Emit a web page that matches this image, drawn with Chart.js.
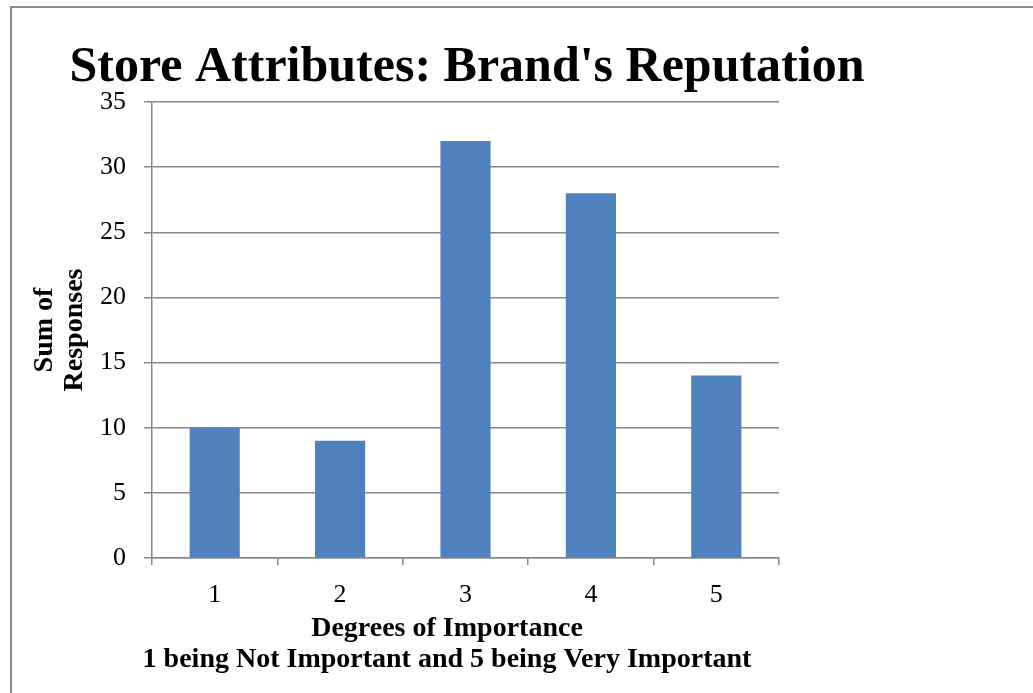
<!DOCTYPE html>
<html>
<head>
<meta charset="utf-8">
<script src="https://cdn.jsdelivr.net/npm/chart.js"></script>
<style>
    html, body { margin: 0; padding: 0; background: #fff; overflow: hidden; }
    #wrap { position: relative; width: 1033px; height: 693px; }
    #frame {
        position: absolute; left: 10px; top: 6px; width: 1100px; height: 800px;
        border: 2px solid #8a8a8a; box-sizing: border-box;
    }
    canvas { position: absolute; left: 0; top: 0; }
</style>
</head>
<body>
<div id="wrap">
    <div id="frame"></div>
    <canvas id="chart" width="1033" height="693"></canvas>
</div>
<script>
// Veriler
const chartTitle = "Store Attributes: Brand's Reputation";
const categories = ['1', '2', '3', '4', '5'];
const responses = [10, 9, 32, 28, 14];
const yTitle = ['Sum of', 'Responses'];
const xTitle = ['Degrees of Importance', '1 being Not Important and 5 being Very Important'];

const serif = '"Liberation Serif", "Times New Roman", serif';
const gridGray = '#888888';

// Başlık ve x ekseni başlığını çizen küçük eklenti
const textLayer = {
    id: 'textLayer',
    afterDraw(chart) {
        const ctx = chart.ctx;
        ctx.save();
        ctx.fillStyle = '#000';
        ctx.textAlign = 'center';
        ctx.textBaseline = 'alphabetic';

        ctx.font = 'bold 50px ' + serif;
        ctx.fillText(chartTitle, 467, 81);

        ctx.font = 'bold 28px ' + serif;
        ctx.fillText(xTitle[0], 447, 636);
        ctx.fillText(xTitle[1], 447, 667);
        ctx.restore();
    }
};

const ctx = document.getElementById('chart').getContext('2d');

new Chart(ctx, {
    type: 'bar',
    data: {
        labels: categories,
        datasets: [
            {
                label: 'Sum of Responses',
                data: responses,
                backgroundColor: '#4F81BD',
                borderWidth: 0,
                barPercentage: 0.4,
                categoryPercentage: 1.0,
            },
        ],
    },
    options: {
        responsive: false,
        animation: false,
        devicePixelRatio: 1,
        layout: {
            padding: { top: 102, right: 254, bottom: 0, left: 0 },
        },
        plugins: {
            legend: { display: false },
            title: { display: false },
            tooltip: { enabled: false },
        },
        scales: {
            x: {
                grid: {
                    offset: true,
                    drawOnChartArea: false,
                    drawTicks: true,
                    tickLength: 7,
                    color: gridGray,
                    lineWidth: 1.5,
                },
                border: { display: true, color: gridGray, width: 1.5 },
                ticks: {
                    color: '#000',
                    font: { family: serif, size: 26 },
                    padding: 15,
                },
                afterFit(scale) {
                    scale.height = 135;
                },
            },
            y: {
                min: 0,
                max: 35,
                ticks: {
                    stepSize: 5,
                    color: '#000',
                    font: { family: serif, size: 26 },
                    padding: 18,
                },
                grid: {
                    color: gridGray,
                    lineWidth: 1.5,
                    tickLength: 8,
                },
                border: { display: true, color: gridGray, width: 1.5 },
                title: {
                    display: true,
                    text: yTitle,
                    color: '#000',
                    font: { family: serif, size: 28, weight: 'bold', lineHeight: 1.07 },
                    padding: { top: 30, bottom: 0 },
                },
                afterFit(scale) {
                    scale.width = 152;
                },
            },
        },
    },
    plugins: [textLayer],
});
</script>
</body>
</html>
